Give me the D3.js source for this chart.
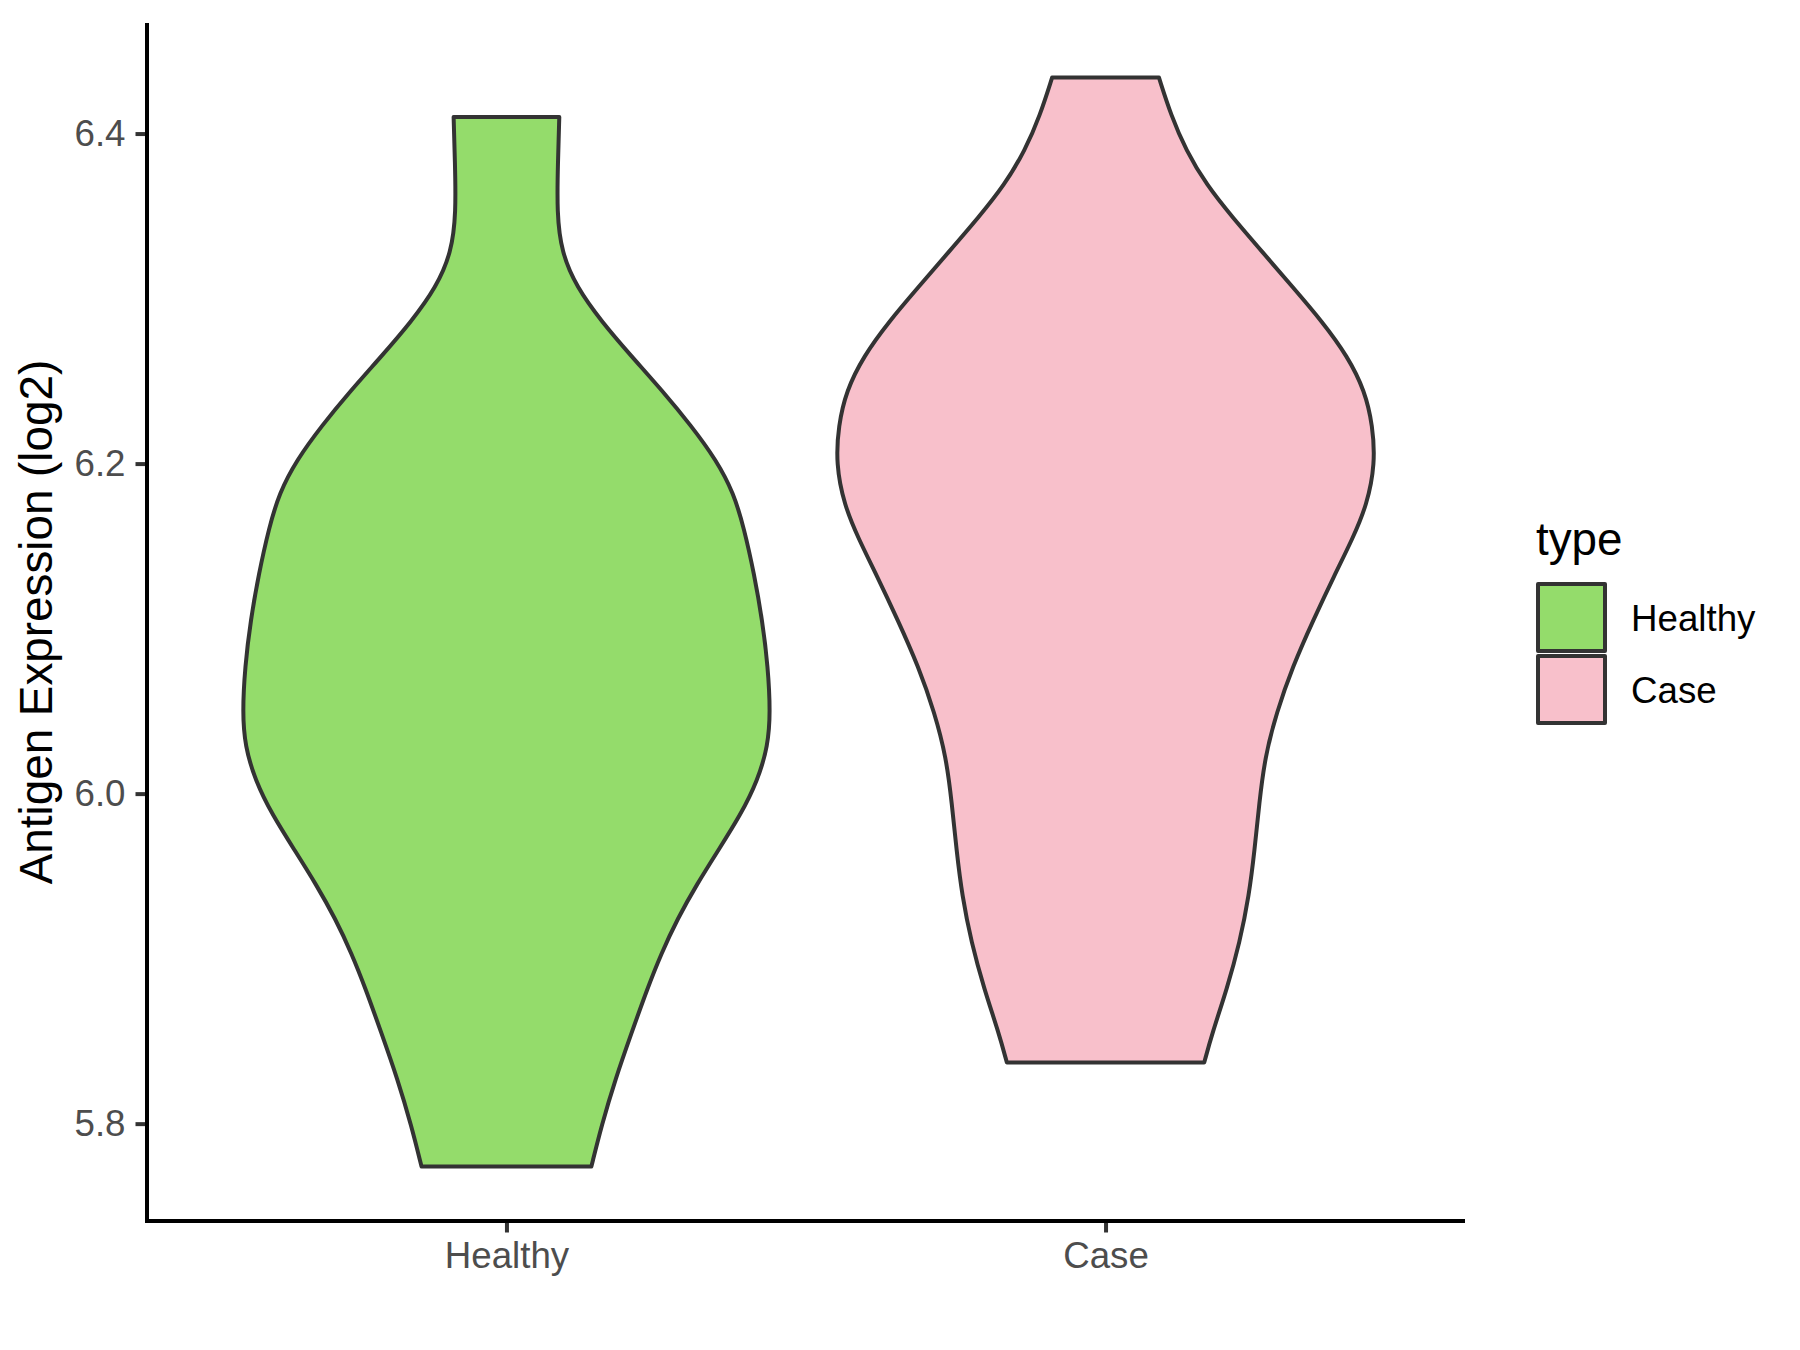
<!DOCTYPE html>
<html>
<head>
<meta charset="utf-8">
<script src="https://cdn.jsdelivr.net/npm/d3@7"></script>
<style>
  body { margin: 0; background: #fff; }
  text { font-family: "Liberation Sans", Arial, sans-serif; }
</style>
</head>
<body>
<svg id="violin-plot"></svg>
<script>
// categories and fills
const categories = ['Healthy', 'Case'];
const fills = ['#94DC6B', '#F8C0CB'];

// violin outlines: expression value and relative density (widest = 1)
const healthyValues = [6.410, 6.383, 6.352, 6.328, 6.307, 6.286, 6.265, 6.244, 6.223, 6.202, 6.182, 6.161, 6.133, 6.105, 6.077, 6.049, 6.029, 6.008, 5.987, 5.966, 5.945, 5.924, 5.903, 5.882, 5.855, 5.827, 5.799, 5.774];
const healthyDensity = [0.196, 0.191, 0.187, 0.204, 0.260, 0.353, 0.464, 0.579, 0.685, 0.779, 0.843, 0.881, 0.919, 0.949, 0.970, 0.979, 0.970, 0.932, 0.868, 0.787, 0.706, 0.634, 0.574, 0.523, 0.464, 0.404, 0.353, 0.315];

const caseValues = [6.434, 6.411, 6.390, 6.369, 6.349, 6.328, 6.307, 6.286, 6.265, 6.244, 6.223, 6.200, 6.175, 6.154, 6.133, 6.105, 6.077, 6.049, 6.022, 5.994, 5.966, 5.938, 5.910, 5.882, 5.855, 5.837];
const caseDensity = [0.198, 0.243, 0.298, 0.374, 0.472, 0.583, 0.694, 0.804, 0.898, 0.962, 0.991, 1.000, 0.970, 0.915, 0.851, 0.770, 0.694, 0.634, 0.591, 0.570, 0.553, 0.532, 0.498, 0.451, 0.396, 0.366];

const yTicks = [5.8, 6.0, 6.2, 6.4];

const series = [
    { name: 'Healthy', values: healthyValues, density: healthyDensity },
    { name: 'Case', values: caseValues, density: caseDensity },
];

const margin = { top: 23, right: 335, bottom: 129, left: 147 };
const fullWidth = 1800;
const fullHeight = 1350;
const width = fullWidth - margin.left - margin.right;
const height = fullHeight - margin.top - margin.bottom;

const axisColour = '#000000';
const tickColour = '#333333';
const tickText = '#4D4D4D';

// discrete x scale, ggplot style: 0.6 units of padding on each side
const xPos = d3.scaleLinear().domain([0.4, categories.length + 0.6]).range([0, width]);

const allValues = healthyValues.concat(caseValues);
const yMin = d3.min(allValues);
const yMax = d3.max(allValues);
const pad = (yMax - yMin) * 0.05;
const yScale = d3.scaleLinear().domain([yMin - pad, yMax + pad]).range([height, 0]);

const svg = d3.select('#violin-plot')
    .attr('width', fullWidth)
    .attr('height', fullHeight)
    .style('background', '#fff');

const g = svg.append('g')
    .attr('transform', `translate(${margin.left}, ${margin.top})`);

// violins
series.forEach((s, i) => {
    const centre = xPos(i + 1);
    const pts = s.values.map((v, j) => ({ v: v, d: s.density[j] }));
    const half = (d) => xPos(1 + d.d * 0.45) - xPos(1);
    const area = d3.area()
        .y((d) => yScale(d.v))
        .x0((d) => centre - half(d))
        .x1((d) => centre + half(d))
        .curve(d3.curveBasis);

    g.append('path')
        .datum(pts)
        .attr('d', area)
        .attr('fill', fills[i])
        .attr('stroke', tickColour)
        .attr('stroke-width', 4)
        .attr('stroke-linejoin', 'round');
});

// y axis
const yAxis = d3.axisLeft(yScale)
    .tickValues(yTicks)
    .tickFormat(d3.format('.1f'))
    .tickSize(11.5)
    .tickPadding(10);

const yG = g.append('g')
    .attr('class', 'y axis')
    .call(yAxis);
yG.select('.domain').remove();
yG.selectAll('.tick line').attr('stroke', tickColour).attr('stroke-width', 4);
yG.selectAll('.tick text')
    .attr('fill', tickText)
    .style('font-size', '36.7px')
    .style('font-family', '"Liberation Sans", Arial, sans-serif');

// x axis
const xAxis = d3.axisBottom(xPos)
    .tickValues(categories.map((c, i) => i + 1))
    .tickFormat((d) => categories[d - 1])
    .tickSize(11.5)
    .tickPadding(8);

const xG = g.append('g')
    .attr('class', 'x axis')
    .attr('transform', `translate(0, ${height})`)
    .call(xAxis);
xG.select('.domain').remove();
xG.selectAll('.tick line').attr('stroke', tickColour).attr('stroke-width', 4);
xG.selectAll('.tick text')
    .attr('fill', tickText)
    .attr('dy', '0.76em')
    .style('font-size', '36.7px')
    .style('font-family', '"Liberation Sans", Arial, sans-serif');

// axis lines drawn as one L so the corner meets
g.append('path')
    .attr('d', `M0,0V${height}H${width}`)
    .attr('fill', 'none')
    .attr('stroke', axisColour)
    .attr('stroke-width', 4)
    .attr('stroke-linecap', 'butt')
    .attr('stroke-linejoin', 'miter');

// y axis title
svg.append('text')
    .attr('transform', `translate(52, ${margin.top + height / 2}) rotate(-90)`)
    .attr('text-anchor', 'middle')
    .style('font-size', '45.8px')
    .style('fill', 'black')
    .text('Antigen Expression (log2)');

// legend
const legend = svg.append('g')
    .attr('transform', 'translate(1536, 0)');

legend.append('text')
    .attr('x', 0)
    .attr('y', 555)
    .style('font-size', '45.8px')
    .style('fill', 'black')
    .text('type');

categories.forEach((c, i) => {
    const top = 584 + i * 72;
    legend.append('rect')
        .attr('x', 2)
        .attr('y', top)
        .attr('width', 67)
        .attr('height', 67)
        .attr('fill', fills[i])
        .attr('stroke', tickColour)
        .attr('stroke-width', 4)
        .attr('stroke-linejoin', 'round');
    legend.append('text')
        .attr('x', 95)
        .attr('y', top + 47)
        .style('font-size', '36.7px')
        .style('fill', 'black')
        .text(c);
});
</script>
</body>
</html>
